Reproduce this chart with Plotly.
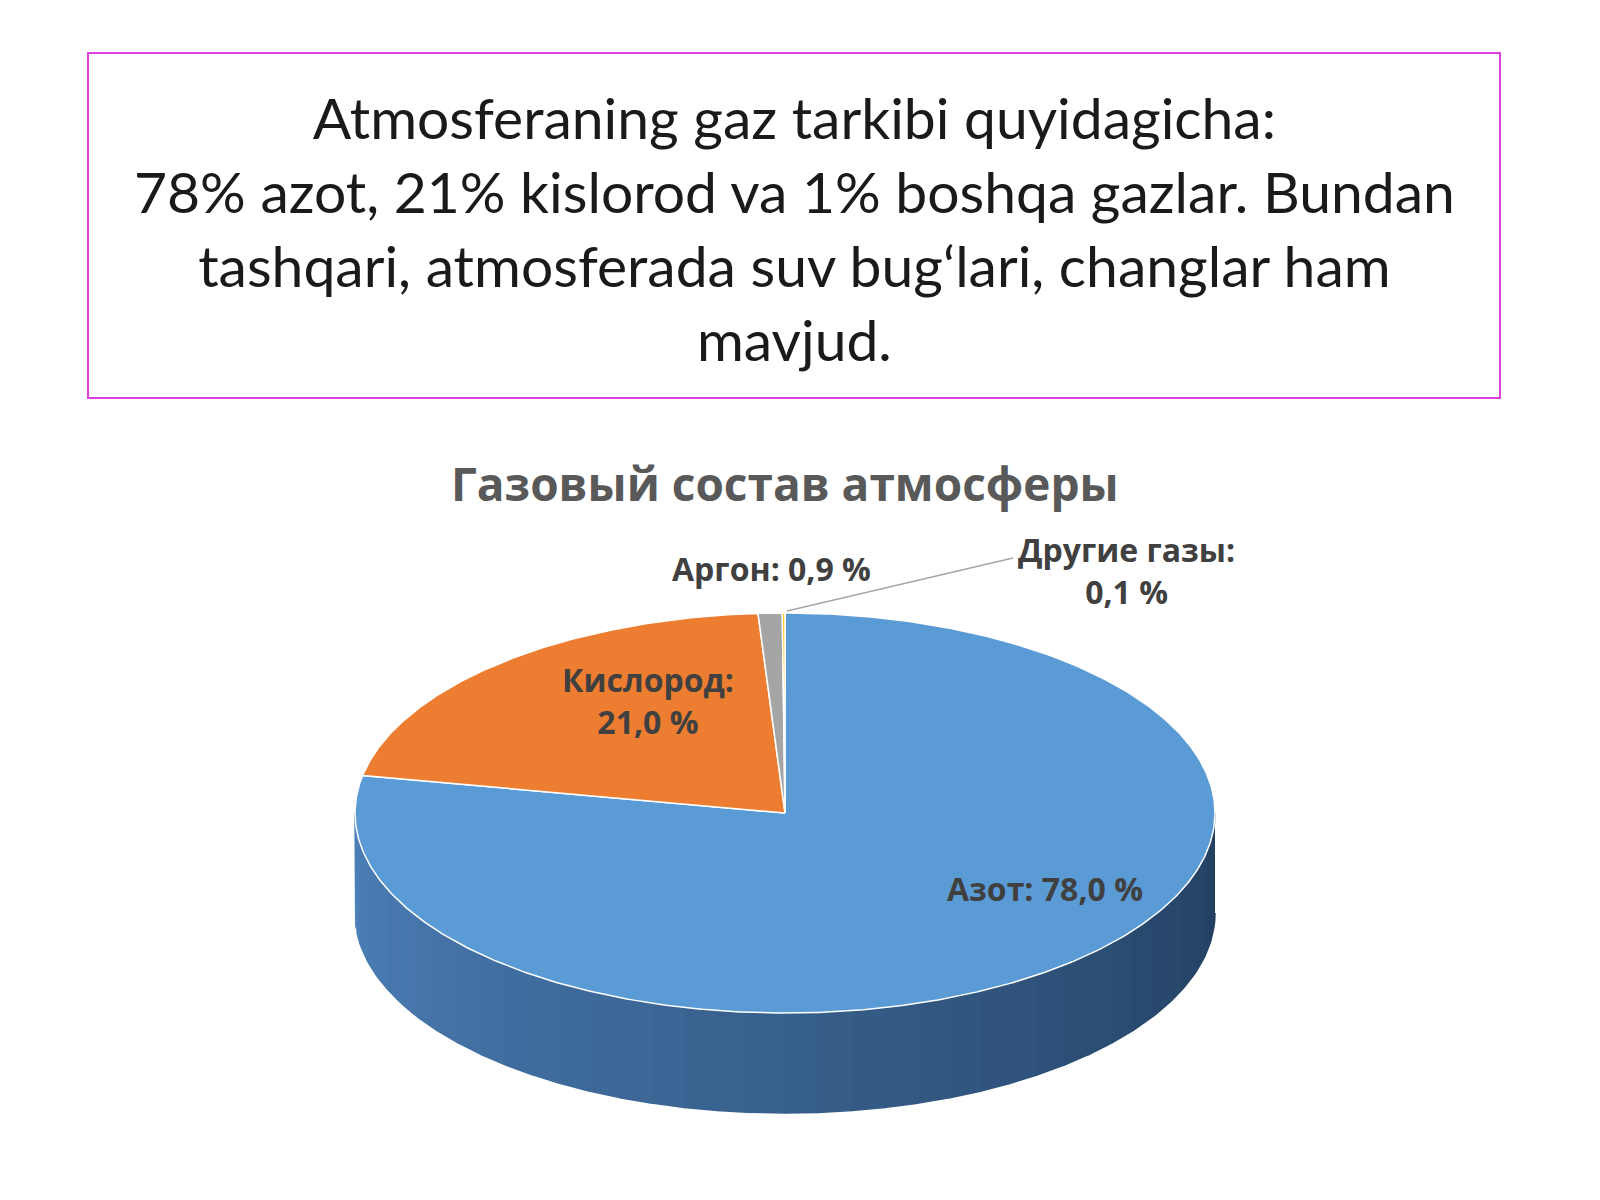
import numpy as np
import plotly.graph_objects as go

labels = ["Азот", "Кислород", "Аргон", "Другие газы"]
values = [78.0, 21.0, 0.9, 0.1]
colors = ["#5b9bd5", "#ed7d31", "#a5a5a5", "#ffc000"]
label_text = ["Азот: 78,0 %", "Кислород:<br>21,0 %", "Аргон: 0,9 %", "Другие газы:<br>0,1 %"]

cx, cy, rx, ry, depth = 777, 805, 430, 200, 100

def pt(theta_deg, dy=0):
    t = np.radians(theta_deg)
    return cx + rx * np.sin(t), cy - ry * np.cos(t) + dy

fig = go.Figure()

n = 40
angles = np.linspace(90, 270, n + 1)
for i in range(n):
    a = np.linspace(angles[i], angles[i + 1], 5)
    xs, ys = pt(a)
    xb, yb = pt(a[::-1], depth)
    frac = i / n
    c0 = np.array([0x22, 0x3f, 0x60]); c1 = np.array([0x4e, 0x82, 0xbb])
    c = (c0 + (c1 - c0) * frac).astype(int)
    col = "rgb(%d,%d,%d)" % tuple(c)
    fig.add_trace(go.Scatter(x=list(xs) + list(xb), y=list(ys) + list(yb), fill="toself",
                             fillcolor=col, line=dict(width=1.5, color=col), mode="lines",
                             hoverinfo="skip", showlegend=False))

total = sum(values)
start = 0.0
for v, c in zip(values, colors):
    span = v / total * 360
    a = np.linspace(start, start + span, max(3, int(span * 2)))
    xs, ys = pt(a)
    fig.add_trace(go.Scatter(x=[cx] + list(xs) + [cx], y=[cy] + list(ys) + [cy], fill="toself",
                             fillcolor=c, line=dict(width=1.5, color="white"), mode="lines",
                             hoverinfo="skip", showlegend=False))
    start += span

lab_pos = [(1037, 880), (640, 692), (763, 560), (1118, 562)]
for (x, y), t in zip(lab_pos, label_text):
    fig.add_annotation(x=x, y=y, text="<b>" + t + "</b>", showarrow=False,
                       font=dict(family="Open Sans", size=32, color="#404040"))
fig.add_trace(go.Scatter(x=[779, 1005], y=[603, 550], mode="lines",
                         line=dict(color="#a6a6a6", width=1.5), hoverinfo="skip", showlegend=False))

fig.add_annotation(x=777, y=475, text="<b>Газовый состав атмосферы</b>", showarrow=False,
                   font=dict(family="Open Sans", size=46, color="#595959"))
fig.add_shape(type="rect", x0=80, y0=45, x1=1492, y1=390, line=dict(color="#e040e0", width=2))
fig.add_annotation(x=786, y=220,
                   text="Atmosferaning gaz tarkibi quyidagicha:<br>78% azot, 21% kislorod va 1% boshqa gazlar. Bundan<br>tashqari, atmosferada suv bug‘lari, changlar ham<br>mavjud.",
                   showarrow=False, font=dict(family="Lato", size=57, color="#1a1a1a"))

fig.update_layout(width=1600, height=1200, margin=dict(l=0, r=0, t=0, b=0),
                  paper_bgcolor="white", plot_bgcolor="white",
                  xaxis=dict(range=[0, 1600], visible=False),
                  yaxis=dict(range=[1200, 0], visible=False))
fig.write_html("out.html")
